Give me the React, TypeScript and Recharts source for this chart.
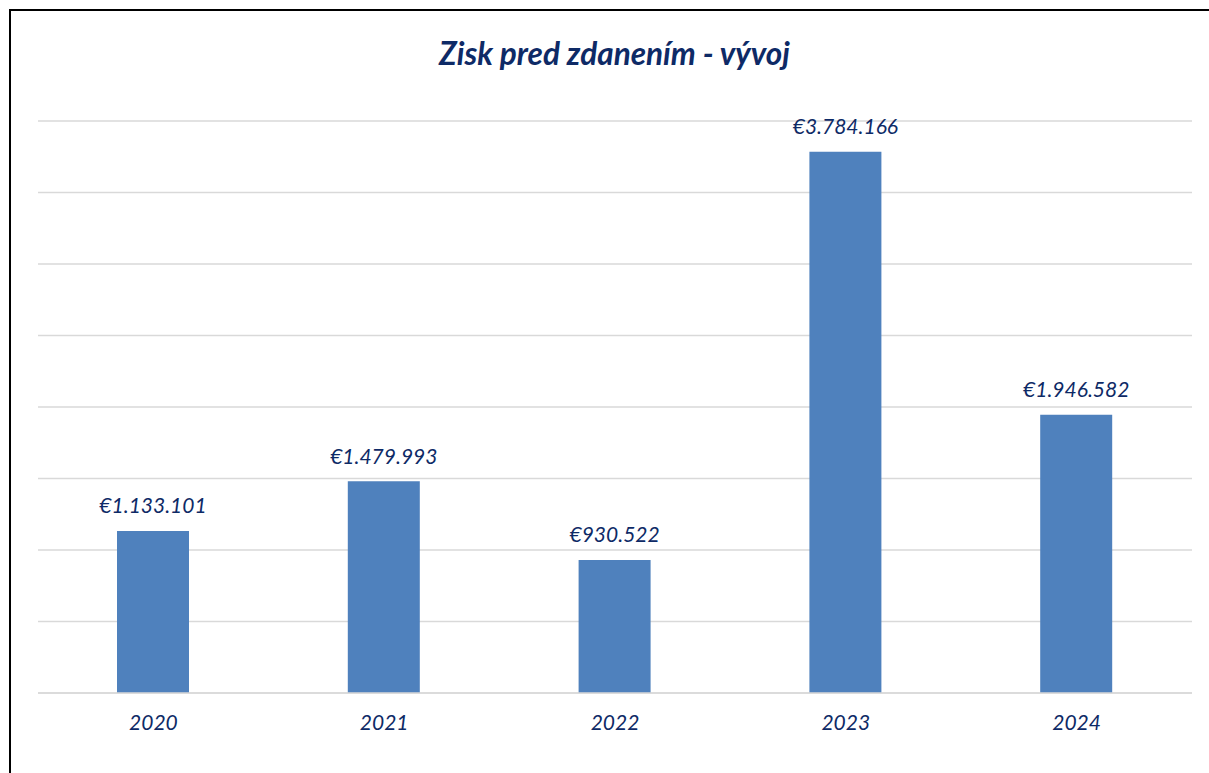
import React from "react";
import { BarChart, Bar, XAxis, YAxis, CartesianGrid, LabelList } from "recharts";

const years = ["2020", "2021", "2022", "2023", "2024"];
const profits = [1133101, 1479993, 930522, 3784166, 1946582];
const yTicks = [0, 500000, 1000000, 1500000, 2000000, 2500000, 3000000, 3500000, 4000000];
const titleText = "Zisk pred zdanením - vývoj";

const data = years.map((y, i) => ({ year: y, value: profits[i] }));

const NAVY = "#0E2A66";
const FONT = "Lato, 'Noto Sans', sans-serif";

const fmt = (v: number) => "€" + String(v).replace(/\B(?=(\d{3})+(?!\d))/g, ".");

const ValueLabel = (props: any) => {
  const { x, y, width, value } = props;
  return (
    <text
      x={x + width / 2}
      y={y - 26}
      textAnchor="middle"
      dominantBaseline="central"
      fill={NAVY}
      fontFamily={FONT}
      fontStyle="italic"
      fontSize={21}
    >
      {fmt(value)}
    </text>
  );
};

const YearTick = (props: any) => {
  const { x, y, payload } = props;
  return (
    <text
      x={x}
      y={y + 20}
      textAnchor="middle"
      dominantBaseline="central"
      fill={NAVY}
      fontFamily={FONT}
      fontStyle="italic"
      fontSize={21}
    >
      {payload.value}
    </text>
  );
};

export default function App() {
  return (
    <div style={{ position: "absolute", left: 0, top: 0, width: 1209, height: 773, background: "#fff", overflow: "hidden" }}>
      <div
        style={{
          position: "absolute",
          left: 9,
          top: 9,
          width: 1300,
          height: 800,
          borderLeft: "2px solid #000",
          borderTop: "2px solid #000",
          boxSizing: "border-box",
        }}
      />
      <div
        style={{
          position: "absolute",
          left: 10,
          top: 33,
          width: 1209,
          textAlign: "center",
          fontFamily: FONT,
          fontStyle: "italic",
          fontWeight: 700,
          fontSize: 31.5,
          color: NAVY,
          lineHeight: "40px",
        }}
      >
        {titleText}
      </div>
      <div style={{ position: "absolute", left: 0, top: 0 }}>
        <BarChart
          width={1209}
          height={773}
          data={data}
          margin={{ top: 121, right: 17, bottom: 0, left: 38 }}
          barCategoryGap={0}
        >
          <CartesianGrid vertical={false} stroke="#D9D9D9" strokeWidth={1.5} />
          <YAxis hide domain={[0, 4000000]} ticks={yTicks} />
          <XAxis
            dataKey="year"
            axisLine={{ stroke: "#D9D9D9", strokeWidth: 1.5 }}
            tickLine={false}
            tick={<YearTick />}
            height={80}
            interval={0}
          />
          <Bar dataKey="value" fill="#4F81BD" barSize={72} isAnimationActive={false}>
            <LabelList dataKey="value" content={<ValueLabel />} />
          </Bar>
        </BarChart>
      </div>
    </div>
  );
}
